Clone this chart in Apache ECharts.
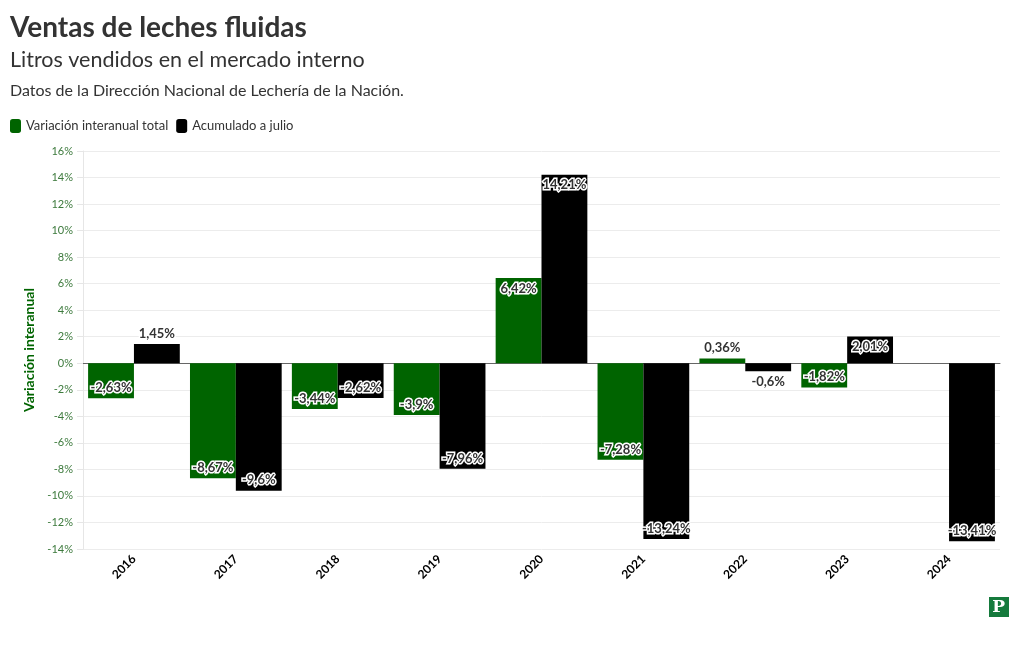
<!DOCTYPE html>
<html><head><meta charset="utf-8">
<script src="https://cdn.jsdelivr.net/npm/echarts@6/dist/echarts.min.js"></script>
<style>html,body{margin:0;padding:0;background:#fff}#c{width:1020px;height:650px}</style>
</head><body><div id="c"></div>
<script>
const categories = ['2016','2017','2018','2019','2020','2021','2022','2023','2024'];
const totalVar = [-2.63, -8.67, -3.44, -3.9, 6.42, -7.28, 0.36, -1.82, null];
const acumJulio = [1.45, -9.6, -2.62, -7.96, 14.21, -13.24, -0.6, 2.01, -13.41];
const yTicks = [-14,-12,-10,-8,-6,-4,-2,0,2,4,6,8,10,12,14,16];

const FONT = 'Lato';
const GREEN = '#006400';
function fmt(v){ return String(v).replace('.', ',') + '%'; }
function toData(arr){
  return arr.map(v => {
    if (v === null) return null;
    let pos;
    if (Math.abs(v) < 1.5) pos = v >= 0 ? 'top' : 'bottom';
    else pos = v >= 0 ? 'insideTop' : 'insideBottom';
    return { value: v, label: { position: pos } };
  });
}
const labelStyle = {
  show: true, formatter: p => fmt(p.value), fontFamily: FONT, fontWeight: 'bold',
  fontSize: 13, color: '#333', textBorderColor: '#fff', textBorderWidth: 3, distance: 4
};
const chart = echarts.init(document.getElementById('c'));
chart.setOption({
  animation: false,
  textStyle: { fontFamily: FONT },
  title: [
    { text: 'Ventas de leches fluidas', left: 5, top: 9, textStyle: { fontFamily: FONT, fontSize: 28, fontWeight: 'bold', color: '#333' } },
    { text: 'Litros vendidos en el mercado interno', left: 5, top: 44, textStyle: { fontFamily: FONT, fontSize: 21.5, fontWeight: 'normal', color: '#333' } },
    { text: 'Datos de la Dirección Nacional de Lechería de la Nación.', left: 5, top: 78, textStyle: { fontFamily: FONT, fontSize: 16, fontWeight: 'normal', color: '#333' } }
  ],
  legend: {
    left: 5, top: 114, itemWidth: 11, itemHeight: 14, itemGap: 8, icon: 'roundRect',
    textStyle: { fontFamily: FONT, fontSize: 13, color: '#333' },
    data: ['Variación interanual total', 'Acumulado a julio']
  },
  grid: { left: 83, right: 20, top: 151, bottom: 101 },
  xAxis: {
    type: 'category', data: categories,
    axisLine: { lineStyle: { color: '#666' } },
    axisTick: { show: false },
    axisLabel: { rotate: 45, fontFamily: FONT, fontWeight: 'bold', fontSize: 12, color: '#000', margin: 8 }
  },
  yAxis: {
    type: 'value', min: -14, max: 16, interval: 2,
    name: 'Variación interanual', nameLocation: 'middle', nameGap: 47,
    nameTextStyle: { fontFamily: FONT, fontWeight: 'bold', fontSize: 14, color: GREEN },
    axisLine: { show: true, lineStyle: { color: '#e6e6e6' } },
    axisTick: { show: true, length: 6, lineStyle: { color: '#e6e6e6' } },
    axisLabel: { formatter: v => v + '%', fontFamily: FONT, fontSize: 11, color: '#3d7a3d', margin: 10,
      customValues: yTicks },
    splitLine: { lineStyle: { color: '#ececec' } }
  },
  series: [
    { name: 'Variación interanual total', type: 'bar', data: toData(totalVar), itemStyle: { color: GREEN },
      barGap: '0%', barCategoryGap: '10%', label: labelStyle },
    { name: 'Acumulado a julio', type: 'bar', data: toData(acumJulio), itemStyle: { color: '#000' },
      barGap: '0%', barCategoryGap: '10%', label: labelStyle }
  ],
  graphic: [
    { type: 'rect', right: 11, bottom: 33, shape: { width: 20, height: 20 }, style: { fill: '#157a3c' } },
    { type: 'text', right: 15, bottom: 34, style: { text: 'P', fill: '#fff', font: 'bold 17px "DejaVu Serif"' } }
  ]
});
</script></body></html>
